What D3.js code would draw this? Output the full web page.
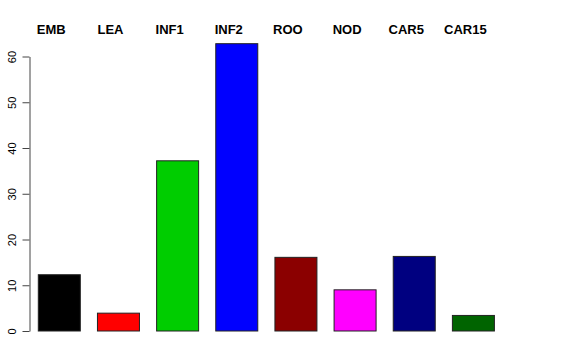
<!DOCTYPE html>
<html>
<head>
<meta charset="utf-8">
<script src="https://cdn.jsdelivr.net/npm/d3@7"></script>
<style>
  body { margin: 0; background: #fff; }
  svg { display: block; font-family: "Liberation Sans", Arial, sans-serif; }
</style>
</head>
<body>
<div id="chart"></div>
<script>
// data
const tissues = ["EMB", "LEA", "INF1", "INF2", "ROO", "NOD", "CAR5", "CAR15"];
const counts = [12.3, 3.9, 37.2, 62.8, 16.1, 9.0, 16.3, 3.4];
const barColors = ["#000000", "#ff0000", "#00cd00", "#0000ff", "#8b0000", "#ff00ff", "#000080", "#006400"];
const yTicks = [0, 10, 20, 30, 40, 50, 60];

const svgWidth = 576;
const svgHeight = 360;

var svg = d3.select("#chart")
    .append("svg")
    .attr("width", svgWidth)
    .attr("height", svgHeight);

// x: bars sit between 38 and 494 px
var xScale = d3.scaleBand()
    .domain(tissues)
    .range([38.3, 494.4])
    .paddingInner(0.29)
    .paddingOuter(0);

// y: 0 at 331px, 60 at 56.5px
var yScale = d3.scaleLinear()
    .domain([0, 60])
    .range([331, 56.5]);

// bars
svg.selectAll("rect.bar")
    .data(counts)
    .enter()
    .append("rect")
    .attr("class", "bar")
    .attr("x", (d, i) => xScale(tissues[i]))
    .attr("y", d => yScale(d))
    .attr("width", xScale.bandwidth())
    .attr("height", d => yScale(0) - yScale(d))
    .attr("fill", (d, i) => barColors[i])
    .attr("stroke", "#222")
    .attr("stroke-width", 1);

// left axis
var leftAxis = d3.axisLeft(yScale)
    .tickValues(yTicks)
    .tickSize(7)
    .tickSizeOuter(0)
    .tickPadding(11);

var yAxis = svg.append("g")
    .attr("transform", "translate(29.5, 0)")
    .call(leftAxis);

yAxis.select(".domain").attr("stroke", "#444");
yAxis.selectAll(".tick line").attr("stroke", "#444");
yAxis.selectAll(".tick text")
    .attr("font-size", 11)
    .attr("font-family", "Liberation Sans, Arial, sans-serif")
    .attr("fill", "#000")
    .attr("text-anchor", "middle")
    .attr("transform", "rotate(-90)")
    .attr("x", 0)
    .attr("dy", 0)
    .attr("y", -14);

// tissue labels along the top
svg.selectAll("text.lab")
    .data(tissues)
    .enter()
    .append("text")
    .attr("class", "lab")
    .attr("x", d => xScale(d) + xScale.bandwidth() / 2 - 8)
    .attr("y", 33.5)
    .attr("text-anchor", "middle")
    .attr("font-size", 13)
    .attr("font-weight", "bold")
    .text(d => d);
</script>
</body>
</html>
